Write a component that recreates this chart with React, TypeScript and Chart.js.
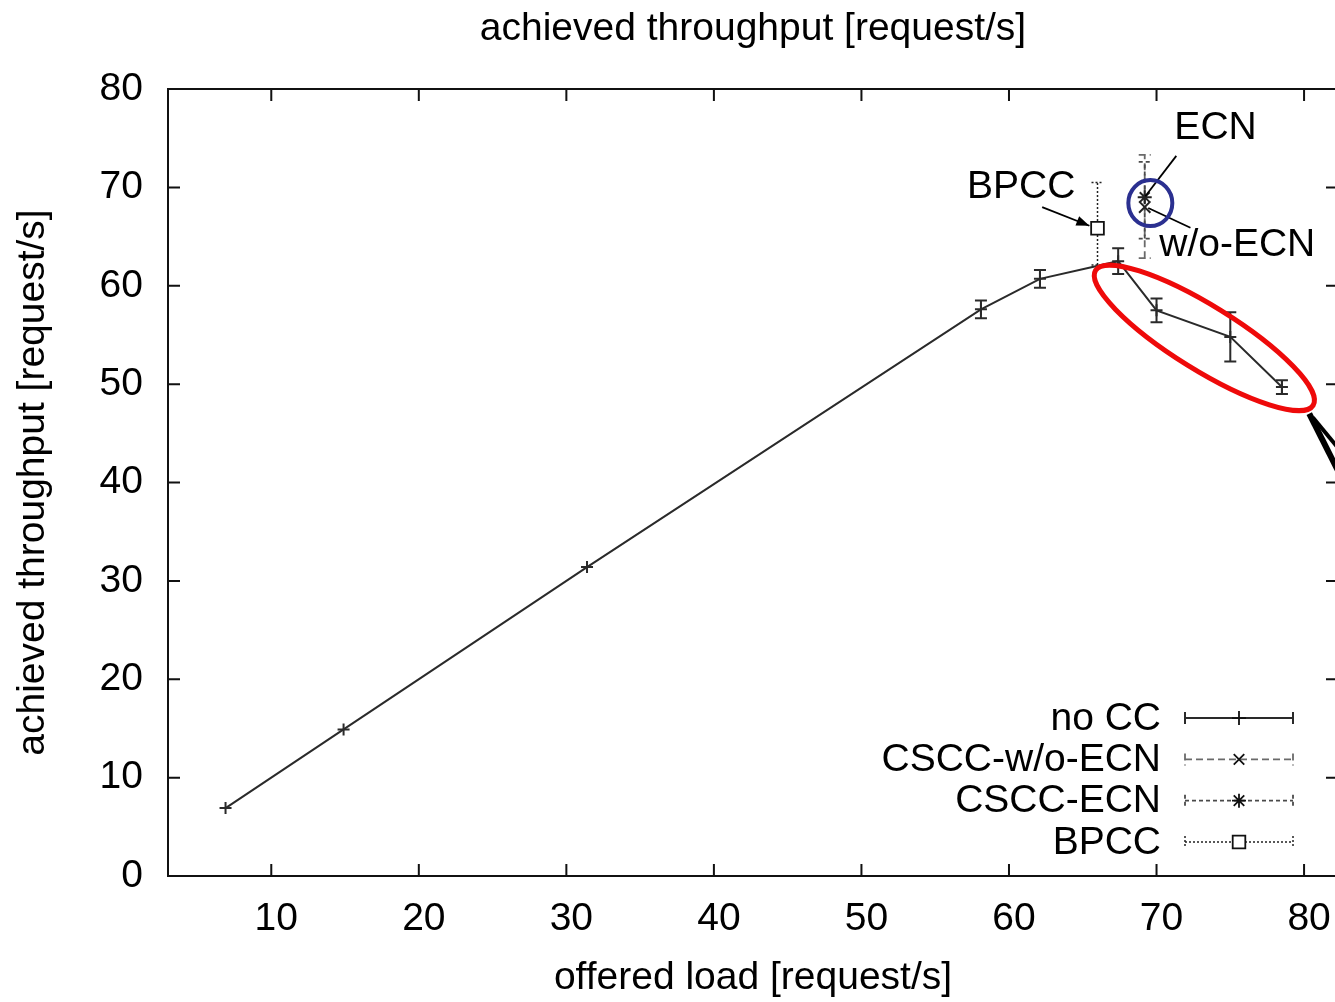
import React, { useEffect, useRef } from "react";
import { Chart, registerables } from "chart.js";

Chart.register(...registerables);

// ---------- data ----------
const chartTitle = "achieved throughput [request/s]";
const xAxisTitle = "offered load [request/s]";
const yAxisTitle = "achieved throughput [request/s]";

const seriesLabels = ["no CC", "CSCC-w/o-ECN", "CSCC-ECN", "BPCC"];

const noCCLoad = [6.9, 14.9, 31.4, 58.1, 62.1, 67.4, 70.0, 75.0, 78.5];
const noCCThroughput = [6.9, 14.9, 31.4, 57.6, 60.7, 62.5, 57.5, 54.8, 49.7];
const noCCErrLow = [6.9, 14.9, 31.4, 56.7, 59.8, 61.2, 56.3, 52.3, 49.0];
const noCCErrHigh = [6.9, 14.9, 31.4, 58.5, 61.6, 63.8, 58.7, 57.3, 50.4];

const cscwLoad = [69.2];
const cscwThroughput = [68.0];
const cscwErrLow = [62.8];
const cscwErrHigh = [73.3];

const ecnLoad = [69.2];
const ecnThroughput = [69.0];
const ecnErrLow = [64.8];
const ecnErrHigh = [72.6];

const bpccLoad = [66.0];
const bpccThroughput = [65.85];
const bpccErrLow = [62.1];
const bpccErrHigh = [70.5];

const xTicks = [10, 20, 30, 40, 50, 60, 70, 80];
const yTicks = [0, 10, 20, 30, 40, 50, 60, 70, 80];

// annotation labels (anchors in data coordinates)
const annoTexts = ["ECN", "BPCC", "w/o-ECN"];
const annoTextX = [74.0, 60.83, 75.47];
const annoTextY = [76.0, 70.0, 64.1];
// [x1, y1, x2, y2] in data coordinates
const annoLineECN = [71.34, 73.2, 69.24, 69.1];
const annoLineWoECN = [69.44, 67.9, 72.3, 65.9];
const annoArrowBPCC = [62.25, 68.0, 65.45, 66.1];
const blueCircleCenter = [69.58, 68.4];
const redEllipseCenter = [73.24, 54.7];
const wedgeLineA = [80.35, 47.0, 82.7, 40.0];
const wedgeLineB = [80.6, 46.6, 82.7, 42.8];

const FONT = '"Liberation Sans", Arial, Helvetica, sans-serif';
const FS = 39;

const pts = (xs: number[], ys: number[]) => xs.map((x, i) => ({ x, y: ys[i] }));

function drawMarker(ctx: CanvasRenderingContext2D, style: string, x: number, y: number, r: number) {
  ctx.beginPath();
  if (style === "cross" || style === "star") {
    ctx.moveTo(x - r, y); ctx.lineTo(x + r, y);
    ctx.moveTo(x, y - r); ctx.lineTo(x, y + r);
  }
  if (style === "crossRot" || style === "star") {
    const d = r * 0.75;
    ctx.moveTo(x - d, y - d); ctx.lineTo(x + d, y + d);
    ctx.moveTo(x - d, y + d); ctx.lineTo(x + d, y - d);
  }
  if (style === "rect") {
    const s = r * 0.7;
    ctx.rect(x - s, y - s, 2 * s, 2 * s);
  }
  ctx.stroke();
}

const decorPlugin = {
  id: "gnuplotDecor",
  beforeDatasetsDraw(chart: any) {
    const { ctx, chartArea: ca, scales } = chart;
    ctx.save();
    // border
    ctx.strokeStyle = "#111";
    ctx.lineWidth = 2;
    ctx.strokeRect(ca.left, ca.top, ca.right - ca.left, ca.bottom - ca.top);
    // inward ticks
    const TL = 12;
    ctx.beginPath();
    xTicks.forEach((v) => {
      const px = scales.x.getPixelForValue(v);
      ctx.moveTo(px, ca.bottom); ctx.lineTo(px, ca.bottom - TL);
      ctx.moveTo(px, ca.top); ctx.lineTo(px, ca.top + TL);
    });
    yTicks.forEach((v) => {
      const py = scales.y.getPixelForValue(v);
      ctx.moveTo(ca.left, py); ctx.lineTo(ca.left + TL, py);
      ctx.moveTo(ca.right, py); ctx.lineTo(ca.right - TL, py);
    });
    ctx.stroke();
    // error bars
    chart.data.datasets.forEach((ds: any, i: number) => {
      if (!ds.errLow) return;
      const meta = chart.getDatasetMeta(i);
      ctx.strokeStyle = ds.borderColor;
      ctx.lineWidth = ds.errWidth;
      ctx.setLineDash(ds.errDash);
      meta.data.forEach((pt: any, j: number) => {
        const lo = ds.errLow[j];
        const hi = ds.errHigh[j];
        if (lo === hi) return;
        const x = pt.x;
        const y1 = scales.y.getPixelForValue(lo);
        const y2 = scales.y.getPixelForValue(hi);
        ctx.beginPath();
        ctx.moveTo(x, y1); ctx.lineTo(x, y2);
        ctx.moveTo(x - 6, y1); ctx.lineTo(x + 6, y1);
        ctx.moveTo(x - 6, y2); ctx.lineTo(x + 6, y2);
        ctx.stroke();
      });
    });
    ctx.restore();
  },
  afterDatasetsDraw(chart: any) {
    const { ctx, chartArea: ca, scales } = chart;
    const X = (v: number) => scales.x.getPixelForValue(v);
    const Y = (v: number) => scales.y.getPixelForValue(v);
    ctx.save();
    // title
    ctx.fillStyle = "#000";
    ctx.font = `${FS}px ${FONT}`;
    ctx.textAlign = "center";
    ctx.textBaseline = "middle";
    ctx.fillText(chartTitle, (ca.left + ca.right) / 2, 29);

    // annotation texts
    annoTexts.forEach((t, i) => ctx.fillText(t, X(annoTextX[i]), Y(annoTextY[i])));

    // annotation lines
    ctx.strokeStyle = "#000";
    ctx.lineWidth = 1.8;
    const seg = (a: number[]) => {
      ctx.beginPath();
      ctx.moveTo(X(a[0]), Y(a[1]));
      ctx.lineTo(X(a[2]), Y(a[3]));
      ctx.stroke();
    };
    seg(annoLineECN);
    seg(annoLineWoECN);
    seg(annoArrowBPCC);
    // arrow head
    {
      const x1 = X(annoArrowBPCC[0]), y1 = Y(annoArrowBPCC[1]);
      const x2 = X(annoArrowBPCC[2]), y2 = Y(annoArrowBPCC[3]);
      const ang = Math.atan2(y2 - y1, x2 - x1);
      const L = 13, W = 5;
      ctx.fillStyle = "#000";
      ctx.beginPath();
      ctx.moveTo(x2, y2);
      ctx.lineTo(x2 - L * Math.cos(ang) + W * Math.sin(ang), y2 - L * Math.sin(ang) - W * Math.cos(ang));
      ctx.lineTo(x2 - L * Math.cos(ang) - W * Math.sin(ang), y2 - L * Math.sin(ang) + W * Math.cos(ang));
      ctx.closePath();
      ctx.fill();
    }

    // blue circle
    ctx.strokeStyle = "#2b3090";
    ctx.lineWidth = 4;
    ctx.beginPath();
    ctx.ellipse(X(blueCircleCenter[0]), Y(blueCircleCenter[1]), 22, 23, 0, 0, Math.PI * 2);
    ctx.stroke();

    // red ellipse
    ctx.strokeStyle = "#ee0a0a";
    ctx.lineWidth = 5;
    ctx.beginPath();
    ctx.ellipse(X(redEllipseCenter[0]), Y(redEllipseCenter[1]), 128, 32, (31.8 * Math.PI) / 180, 0, Math.PI * 2);
    ctx.stroke();

    // black callout wedge
    ctx.strokeStyle = "#000";
    ctx.lineWidth = 6;
    seg(wedgeLineA);
    ctx.lineWidth = 4;
    seg(wedgeLineB);

    // legend
    ctx.font = `${FS}px ${FONT}`;
    ctx.textAlign = "right";
    ctx.textBaseline = "middle";
    chart.data.datasets.forEach((ds: any, i: number) => {
      const n = chart.data.datasets.length;
      const y = ca.bottom - 34 - (n - 1 - i) * 41.3;
      ctx.fillStyle = "#000";
      ctx.fillText(ds.label, ca.right - 177, y + 1);
      const x1 = ca.right - 153, x2 = ca.right - 45, xm = (x1 + x2) / 2;
      ctx.strokeStyle = ds.borderColor;
      ctx.lineWidth = ds.errWidth;
      ctx.setLineDash(ds.errDash);
      ctx.beginPath();
      ctx.moveTo(x1, y); ctx.lineTo(x2, y);
      ctx.moveTo(x1, y - 6); ctx.lineTo(x1, y + 6);
      ctx.moveTo(x2, y - 6); ctx.lineTo(x2, y + 6);
      ctx.stroke();
      ctx.setLineDash([]);
      ctx.lineWidth = 1.8;
      ctx.strokeStyle = "#111";
      if (ds.pointStyle === "rect") {
        ctx.fillStyle = "#fff";
        ctx.fillRect(xm - 6, y - 6, 12, 12);
      }
      drawMarker(ctx, ds.pointStyle, xm, y, ds.pointStyle === "rect" ? 9 : 7);
    });
    ctx.restore();
  },
};

export default function App() {
  const ref = useRef<HTMLCanvasElement>(null);

  useEffect(() => {
    const canvas = ref.current;
    if (!canvas) return;
    Chart.defaults.font.family = FONT;
    const chart = new Chart(canvas, {
      type: "scatter",
      data: {
        datasets: [
          {
            label: seriesLabels[0],
            data: pts(noCCLoad, noCCThroughput),
            errLow: noCCErrLow,
            errHigh: noCCErrHigh,
            errDash: [],
            errWidth: 2,
            showLine: true,
            borderColor: "#2a2a2a",
            backgroundColor: "#2a2a2a",
            borderWidth: 2,
            pointStyle: "cross",
            pointRadius: 6,
            pointBorderWidth: 2,
          } as any,
          {
            label: seriesLabels[1],
            data: pts(cscwLoad, cscwThroughput),
            errLow: cscwErrLow,
            errHigh: cscwErrHigh,
            errDash: [7, 4],
            errWidth: 1.8,
            borderColor: "#6a6a6a",
            backgroundColor: "#6a6a6a",
            borderWidth: 1.8,
            pointStyle: "crossRot",
            pointRadius: 8,
            pointBorderColor: "#222",
            pointBorderWidth: 2,
          } as any,
          {
            label: seriesLabels[2],
            data: pts(ecnLoad, ecnThroughput),
            errLow: ecnErrLow,
            errHigh: ecnErrHigh,
            errDash: [4, 3],
            errWidth: 1.8,
            borderColor: "#4a4a4a",
            backgroundColor: "#4a4a4a",
            borderWidth: 1.8,
            pointStyle: "star",
            pointRadius: 7,
            pointBorderColor: "#222",
            pointBorderWidth: 2,
          } as any,
          {
            label: seriesLabels[3],
            data: pts(bpccLoad, bpccThroughput),
            errLow: bpccErrLow,
            errHigh: bpccErrHigh,
            errDash: [2, 2],
            errWidth: 1.5,
            borderColor: "#222",
            backgroundColor: "#fff",
            borderWidth: 1.5,
            pointStyle: "rect",
            pointRadius: 9,
            pointBackgroundColor: "#fff",
            pointBorderColor: "#111",
            pointBorderWidth: 1.8,
          } as any,
        ],
      },
      options: {
        animation: false,
        responsive: false,
        maintainAspectRatio: false,
        devicePixelRatio: 1,
        layout: { padding: { top: 89, right: 12, left: 0, bottom: 0 } },
        plugins: {
          legend: { display: false },
          title: { display: false },
          tooltip: { enabled: false },
        },
        scales: {
          x: {
            type: "linear",
            min: 3,
            max: 82.3,
            grid: { display: false, drawTicks: false },
            border: { display: false },
            afterBuildTicks: (s: any) => {
              s.ticks = xTicks.map((v) => ({ value: v }));
            },
            afterFit: (s: any) => {
              s.height = 126;
            },
            ticks: {
              color: "#000",
              font: { size: FS, family: FONT },
              padding: 20,
              labelOffset: 5,
              maxRotation: 0,
              autoSkip: false,
            },
            title: {
              display: true,
              text: xAxisTitle,
              color: "#000",
              font: { size: FS, family: FONT },
              padding: { top: 0, bottom: 0 },
            },
          },
          y: {
            type: "linear",
            min: 0,
            max: 80,
            grid: { display: false, drawTicks: false },
            border: { display: false },
            afterBuildTicks: (s: any) => {
              s.ticks = yTicks.map((v) => ({ value: v }));
            },
            afterFit: (s: any) => {
              s.width = 168;
            },
            ticks: {
              color: "#000",
              font: { size: FS, family: FONT },
              padding: 25,
              autoSkip: false,
            },
            title: {
              display: true,
              text: yAxisTitle,
              color: "#000",
              font: { size: FS, family: FONT },
              padding: { top: 10, bottom: 0 },
            },
          },
        },
      } as any,
      plugins: [decorPlugin as any],
    });
    return () => chart.destroy();
  }, []);

  return (
    <div
      style={{
        position: "fixed",
        left: 0,
        top: 0,
        width: 1335,
        height: 1002,
        overflow: "hidden",
        background: "#fff",
      }}
    >
      <canvas ref={ref} width={1350} height={1002} style={{ display: "block" }} />
    </div>
  );
}
